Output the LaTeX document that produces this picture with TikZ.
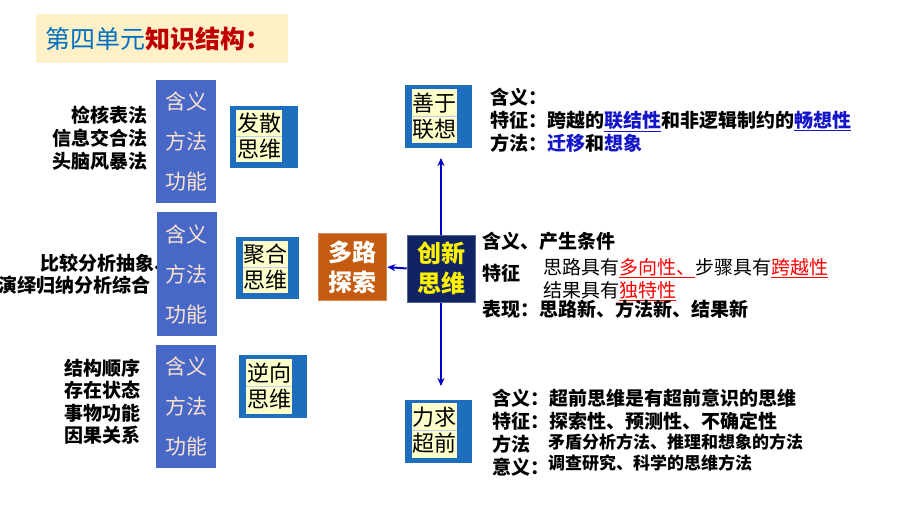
\documentclass[tikz,border=0pt]{standalone}
\usepackage{fontspec}
\setmainfont{Noto Sans CJK SC}
\usetikzlibrary{arrows.meta, positioning}

\definecolor{colblue}{RGB}{72,104,200}
\definecolor{colpink}{RGB}{250,226,206}
\definecolor{frameblue}{RGB}{30,110,190}
\definecolor{paleyellow}{RGB}{255,255,204}
\definecolor{hubnavy}{RGB}{16,36,100}
\definecolor{rust}{RGB}{197,90,17}
\definecolor{titleblue}{RGB}{0,112,192}
\definecolor{titlered}{RGB}{192,0,0}
\definecolor{titlebg}{RGB}{255,240,200}
\definecolor{linkblue}{RGB}{20,20,200}
\definecolor{arrowblue}{RGB}{0,0,200}

\begin{document}
\begin{tikzpicture}[
    x=1pt, y=-1pt,
    >=Stealth,
    % Core styles
    titlebox/.style={
        rectangle, fill=titlebg, inner xsep=9pt, inner ysep=0pt,
        minimum height=49pt, text width=234pt, align=left,
        font=\fontsize{25}{30}\selectfont
    },
    colbox/.style={
        rectangle, fill=colblue, inner sep=0pt,
        minimum width=60pt, minimum height=123pt, align=center,
        text=colpink, font=\fontsize{21}{40}\selectfont
    },
    thinkframe/.style={
        rectangle, fill=frameblue, inner sep=0pt,
        minimum width=68pt, minimum height=62pt
    },
    thinkface/.style={
        rectangle, fill=paleyellow, inner sep=0pt,
        minimum width=46pt, minimum height=52pt, align=center,
        font=\fontsize{22}{26}\selectfont
    },
    divider/.style={frameblue!30, line width=0.5pt},
    hub/.style={
        rectangle, fill=#1, draw=#1!70!white, line width=0.6pt,
        minimum width=68pt, minimum height=67pt, inner sep=0pt,
        align=center, font=\fontsize{24}{30}\selectfont\bfseries
    },
    flow/.style={draw=arrowblue, line width=2pt,
        arrows={-Stealth[length=8pt, width=7pt]}},
    method/.style={font=\fontsize{19}{23}\selectfont\bfseries, inner sep=0pt},
    annot/.style={font=\fontsize{19}{23}\selectfont\bfseries, inner sep=0pt, anchor=west},
    plain/.style={font=\fontsize{19}{23}\selectfont, inner sep=0pt, anchor=west},
    small/.style={font=\fontsize{17}{21}\selectfont\bfseries, inner sep=0pt, anchor=west}
]

\useasboundingbox[fill=white] (0,0) rectangle (920,518);

% === TITLE ===
\node[titlebox, anchor=north west] (title) at (36,14)
    {{\color{titleblue}第四单元}{\bfseries\color{titlered}知识结构：}};

% === LEFT METHOD LISTS ===
\node[method, anchor=east, align=right] (list1) at (148,138)
    {检核表法\\信息交合法\\头脑风暴法};
\node[method, anchor=west] (list2a) at (40,263) {比较分析抽象、};
\node[method, anchor=east] (list2b) at (151,285) {演绎归纳分析综合};
\node[method, anchor=east, align=right, font=\fontsize{19}{22.4}\selectfont\bfseries] (list3) at (141,401.5)
    {结构顺序\\存在状态\\事物功能\\因果关系};

% === BLUE COLUMNS ===
\node[colbox] (col1) at (186,141.5) {含义\\方法\\功能};
\node[colbox] (col2) at (186.5,274) {含义\\方法\\功能};
\node[colbox] (col3) at (186,406.5) {含义\\方法\\功能};

% === THINKING MODES (left) ===
\node[thinkframe] (fasan) at (264,137) {};
\node[thinkface] (fasanin) at (259,136) {发散\\思维};
\draw[divider] (fasanin.west) -- (fasanin.east);

\node[thinkframe, minimum width=63pt] (juhe) at (267.5,268) {};
\node[thinkface, minimum width=45pt] (juhein) at (265.5,267) {聚合\\思维};
\draw[divider] (juhein.west) -- (juhein.east);

\node[thinkframe, minimum height=63pt] (nixiang) at (273,386.5) {};
\node[thinkface, minimum height=55pt] (nixiangin) at (269,386.5) {逆向\\思维};
\draw[divider] (nixiangin.west) -- (nixiangin.east);

% === CENTRE ===
\node[hub=rust, text=white] (duolu) at (352,267) {多路\\探索};

\node[thinkframe, minimum width=67pt, minimum height=63pt] (shanyu) at (438.5,116.5) {};
\node[thinkface, minimum width=45pt, minimum height=54pt] (shanyuin) at (434.5,116) {善于\\联想};
\draw[divider] (shanyuin.west) -- (shanyuin.east);

\node[thinkframe, minimum width=67pt, minimum height=63pt] (liqiu) at (438.5,431.5) {};
\node[thinkface, minimum width=45pt, minimum height=55pt] (liqiuin) at (434.5,430.5) {力求\\超前};
\draw[divider] (liqiuin.west) -- (liqiuin.east);

% vertical spine and arrows, drawn behind the hub
\coordinate (uptip) at (441,158);
\coordinate (downtip) at (441,386);
\coordinate (spine) at (441,268.5);
\draw[flow] (spine) -- (uptip);
\draw[flow] (spine) -- (downtip);

\node[hub=hubnavy, text=yellow] (hub) at (spine) {创新\\思维};
\draw[flow, shorten >=1pt] (hub.west) -- (duolu.east);

% === RIGHT NOTES: 善于联想 ===
\node[annot, align=left] (assoc) at (490,120)
    {含义：\\
     特征：跨越的{\color{linkblue}\underline{联结性}}和非逻辑制约的{\color{linkblue}\underline{畅想性}}\\
     方法：{\color{linkblue}迁移}和{\color{linkblue}想象}};

% === RIGHT NOTES: 创新思维 ===
\node[annot] (meaning) at (482,241) {含义、产生条件};
\node[annot] (feature) at (482,273) {特征};
\node[plain, align=left] (featuretext) at (543,279.5)
    {思路具有{\color{red}\underline{多向性、}}步骤具有{\color{red}\underline{跨越性}}\\
     结果具有{\color{red}\underline{独特性}}};
\node[annot] (show) at (482,309) {表现：思路新、方法新、结果新};

% === RIGHT NOTES: 力求超前 ===
\node[annot] (ahead1) at (492,398) {含义：超前思维是有超前意识的思维};
\node[annot] (ahead2) at (492,421) {特征：探索性、预测性、不确定性};
\node[annot] (ahead3) at (492,444) {方法};
\node[small] (ahead3t) at (548,442) {矛盾分析方法、推理和想象的方法};
\node[annot] (ahead4) at (492,467) {意义：};
\node[small] (ahead4t) at (548,463) {调查研究、科学的思维方法};

\end{tikzpicture}
\end{document}
